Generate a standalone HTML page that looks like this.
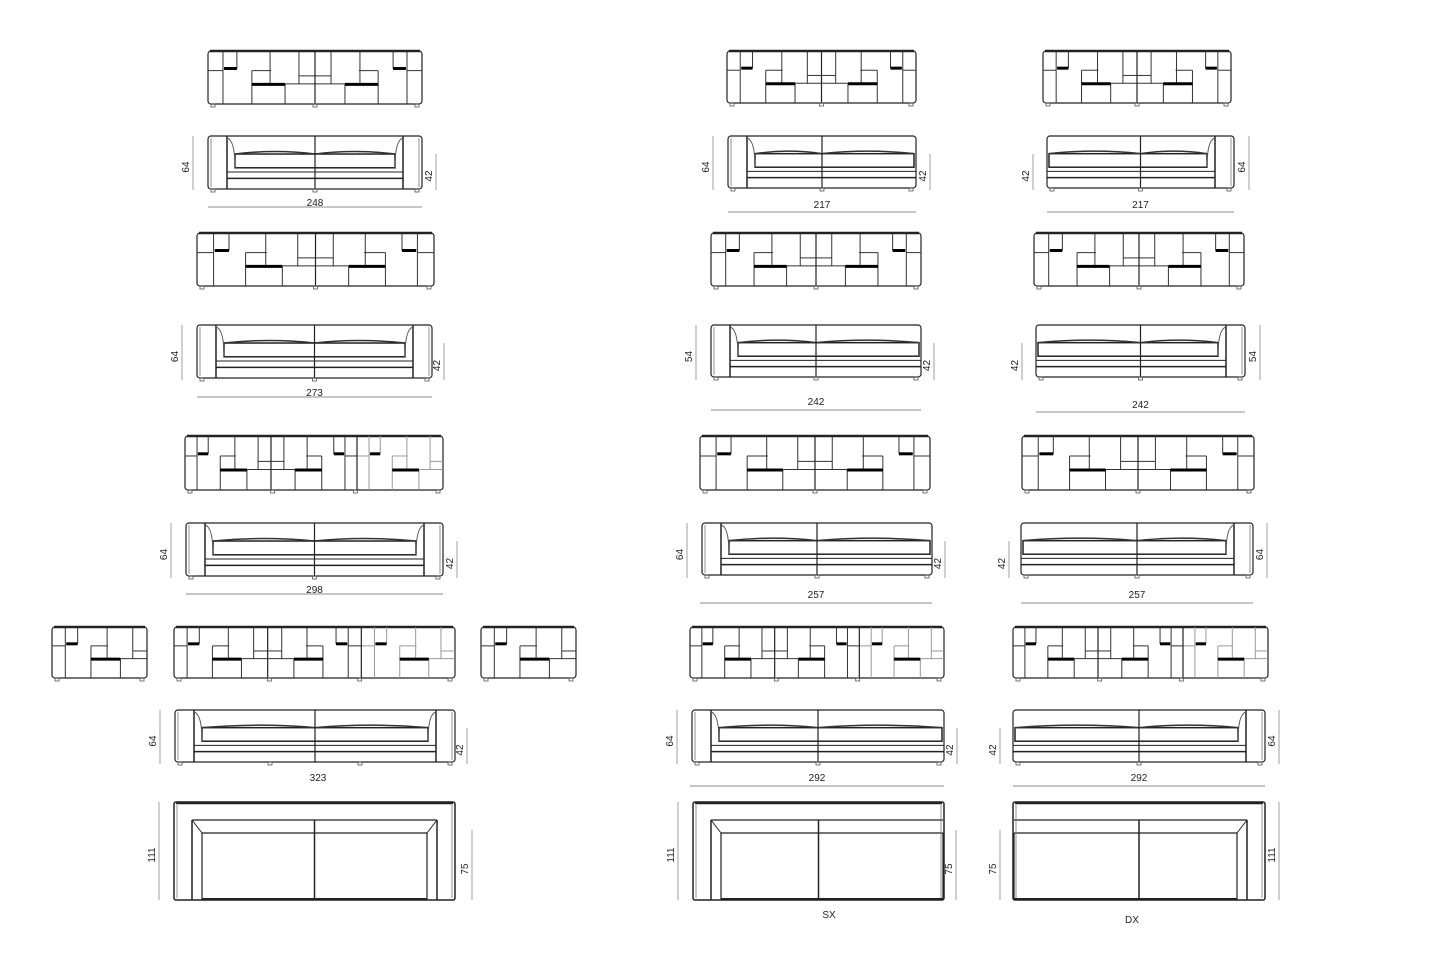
<!DOCTYPE html>
<html><head><meta charset="utf-8"><style>
html,body{margin:0;padding:0;background:#fff;}
svg{display:block;}
text{font-family:"Liberation Sans",sans-serif;font-size:10px;fill:#222;}
</style></head><body>
<svg id="s" width="1445" height="969" viewBox="0 0 1445 969" xmlns="http://www.w3.org/2000/svg"></svg>
<script>
(function(){
const S=document.getElementById('s');let out='';
function L(x1,y1,x2,y2,w,c){out+=`<line x1="${x1}" y1="${y1}" x2="${x2}" y2="${y2}" stroke="${c||'#222'}" stroke-width="${w||1}"/>`;}
function R(x,y,w,h,sw,rx,c){out+=`<rect x="${x}" y="${y}" width="${w}" height="${h}" rx="${rx||0}" fill="none" stroke="${c||'#222'}" stroke-width="${sw||1}"/>`;}
function T(x,y,t,rot){if(rot)out+=`<text x="${x}" y="${y}" text-anchor="middle" transform="rotate(-90 ${x} ${y})">${t}</text>`;else out+=`<text x="${x}" y="${y}" text-anchor="middle">${t}</text>`;}
const pat=[[.14,0,.14,1],[.27,0,.27,.33],[.41,.37,.41,1],[.41,.37,.59,.37],[.58,0,.58,.63],[.72,.63,.72,1],[.85,0,.85,.63],[.85,.47,1,.47],[.72,.62,1,.62],[0,.37,.14,.37]];
const bars=[[.15,.33,.27],[.41,.63,.72]];
function feet(x1,x2,y,n){const k=Math.max(2,n+1);for(let i=0;i<k;i++){const fx=x1+5+i*(x2-x1-10)/(k-1);R(fx-2,y,4,3,0.8,0,'#555');}}
function back(x1,x2,y1,y2){const w=x2-x1,h=y2-y1;R(x1,y1,w,h,1.2,3);L(x1+2,y1,x2-2,y1,2.5);
 const n=Math.max(1,Math.round(w/95)),mw=w/n;
 for(let i=0;i<n;i++){const ox=x1+i*mw,m=i%2==1;
  const X=v=>ox+(m?1-v:v)*mw;
  pat.forEach(p=>L(X(p[0]),y1+p[1]*h,X(p[2]),y1+p[3]*h,1,i%3==2?'#999':'#333'));
  bars.forEach(b=>L(X(b[0]),y1+b[1]*h,X(b[2]),y1+b[1]*h,3,'#000'));
  if(i>0)L(ox,y1,ox,y2,1.2);}
 feet(x1,x2,y2,n);}
function sofa(x1,x2,y1,y2,arms){const w=x2-x1,h=y2-y1,a=Math.round(h*0.36);
 R(x1,y1,w,h,1.2,3);
 const la=arms!='R',ra=arms!='L';
 const ix1=la?x1+a:x1, ix2=ra?x2-a:x2;
 if(la){L(ix1,y1,ix1,y2,1.5);L(x1+3,y1+2,x1+3,y2-2,0.8,'#777');}
 if(ra){L(ix2,y1,ix2,y2,1.5);L(x2-3,y1+2,x2-3,y2-2,0.8,'#777');}
 const sx1=la?ix1+8:ix1+2, sx2=ra?ix2-8:ix2-2,cy=y1+h*0.34,cb=y1+h*0.6,mid=(x1+x2)/2;
 R(sx1,cy,sx2-sx1,cb-cy,1.5);
 out+=`<path d="M${sx1} ${cy} Q${(sx1+mid)/2} ${cy-5} ${mid} ${cy} Q${(mid+sx2)/2} ${cy-5} ${sx2} ${cy}" fill="none" stroke="#333" stroke-width="1.5"/>`;
 if(la)out+=`<path d="M${ix1} ${y1+2} Q${ix1+8} ${y1+4} ${sx1} ${cb}" fill="none" stroke="#555"/>`;
 if(ra)out+=`<path d="M${ix2} ${y1+2} Q${ix2-8} ${y1+4} ${sx2} ${cb}" fill="none" stroke="#555"/>`;
 L(la?ix1:x1,y1+h*0.68,ra?ix2:x2,y1+h*0.68,1);L(la?ix1:x1,y1+h*0.8,ra?ix2:x2,y1+h*0.8,1.5);
 L(mid,y1,mid,y2,1.2);
 feet(x1,x2,y2,Math.max(1,Math.round(w/110)));}
function topv(x1,x2,y1,y2,arms){const w=x2-x1,h=y2-y1;R(x1,y1,w,h,1.5,2);L(x1+2,y1+1,x2-2,y1+1,2.5);
 const la=arms!='R',ra=arms!='L',a=18;const ix1=la?x1+a:x1+1,ix2=ra?x2-a:x2-1,iy=y1+18,sy=y1+31,mid=(x1+x2)/2;
 L(ix1,iy,ix2,iy,1.2);if(la)L(ix1,iy,ix1,y2,1.5);if(ra)L(ix2,iy,ix2,y2,1.5);
 const sx1=la?ix1+10:ix1,sx2=ra?ix2-10:ix2;
 L(sx1,sy,sx2,sy,1.2);L(sx1,sy,sx1,y2,1.2);L(sx2,sy,sx2,y2,1.2);L(sx1,y2-1,sx2,y2-1,2);
 if(la)L(ix1,iy,sx1,sy);if(ra)L(ix2,iy,sx2,sy);
 L(mid,iy,mid,y2,1.5);L(x1+3,y1+3,x1+3,y2-2,0.8,'#777');L(x2-3,y1+3,x2-3,y2-2,0.8,'#777');}
function vdim(x,y1,y2,t){L(x,y1,x,y2,0.8,'#888');T(x-4,(y1+y2)/2+4,t,1);}
function hdim(x1,x2,y,t,ty){L(x1,y,x2,y,0.8,'#666');T((x1+x2)/2,ty,t);}
back(208,422,51,104);sofa(208,422,136,189);vdim(193,136,190,'64');vdim(436,154,190,'42');hdim(208,422,207,'248',206);
back(197,434,233,286);sofa(197,432,325,378);vdim(182,325,380,'64');vdim(444,343,380,'42');hdim(197,432,397,'273',396);
back(185,443,436,490);sofa(186,443,523,576);vdim(171,523,578,'64');vdim(457,541,578,'42');hdim(186,443,594,'298',593);
back(52,147,627,678);back(174,455,627,678);back(481,576,627,678);
sofa(175,455,710,762);vdim(160,710,764,'64');vdim(467,728,764,'42');T(318,781,'323');
topv(174,455,802,900);vdim(159,802,900,'111');vdim(472,830,900,'75');
back(727,916,51,103);sofa(728,916,136,188,'L');vdim(713,136,190,'64');vdim(930,154,190,'42');hdim(728,916,212,'217',208);
back(711,921,233,286);sofa(711,921,325,377,'L');vdim(696,325,380,'54');vdim(934,343,380,'42');hdim(711,921,410,'242',405);
back(700,930,436,490);sofa(702,932,523,575,'L');vdim(687,523,578,'64');vdim(945,541,578,'42');hdim(700,932,603,'257',598);
back(690,944,627,678);sofa(692,944,710,762,'L');vdim(677,710,764,'64');vdim(957,728,764,'42');hdim(690,944,786,'292',781);
topv(693,944,802,900,'L');vdim(678,802,900,'111');vdim(956,830,900,'75');T(829,918,'SX');
back(1043,1231,51,103);sofa(1047,1234,136,188,'R');vdim(1033,154,190,'42');vdim(1249,136,190,'64');hdim(1047,1234,212,'217',208);
back(1034,1244,233,286);sofa(1036,1245,325,377,'R');vdim(1022,343,380,'42');vdim(1260,325,380,'54');hdim(1036,1245,412,'242',408);
back(1022,1254,436,490);sofa(1021,1253,523,575,'R');vdim(1009,541,578,'42');vdim(1267,523,578,'64');hdim(1021,1253,603,'257',598);
back(1013,1268,627,678);sofa(1013,1265,710,762,'R');vdim(1000,728,764,'42');vdim(1279,710,764,'64');hdim(1013,1265,786,'292',781);
topv(1013,1265,802,900,'R');vdim(1000,830,900,'75');vdim(1279,802,900,'111');T(1132,923,'DX');
S.innerHTML=out;
})();
</script>
</body></html>
